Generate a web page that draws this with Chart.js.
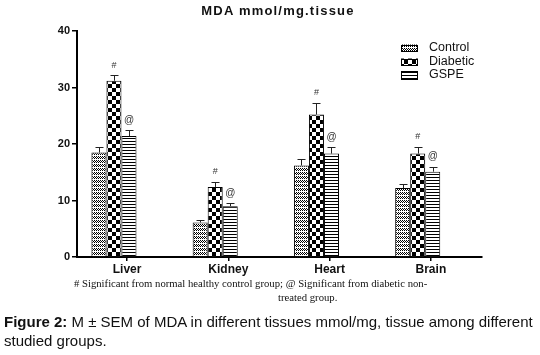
<!DOCTYPE html>
<html>
<head>
<meta charset="utf-8">
<script src="https://cdn.jsdelivr.net/npm/chart.js@4.4.1/dist/chart.umd.min.js"></script>
<style>
  html, body { margin: 0; padding: 0; background: #fff; }
  #wrap { position: relative; width: 540px; height: 355px; overflow: hidden; }
  #chartBox { position: absolute; left: 0; top: 0; width: 540px; height: 355px; }
  .title { position: absolute; top: 3px; left: 0; width: 556px; text-align: center;
           font: bold 13px "Liberation Sans", Arial, sans-serif; color: #111; letter-spacing: 1.2px; }
  .note { position: absolute; font: 10.7px "Liberation Serif", "Times New Roman", serif; color: #111; white-space: nowrap; }
  .caption { position: absolute; left: 4px; font: 15px "Liberation Sans", Arial, sans-serif; color: #111; white-space: nowrap; }
</style>
</head>
<body>
<div id="wrap">
  <div id="chartBox"><canvas id="c"></canvas></div>
  <div class="title">MDA mmol/mg.tissue</div>
  <div class="note" style="left:74px; top:277px;"># Significant from normal healthy control group; @ Significant from diabetic non-</div>
  <div class="note" style="left:278px; top:291px;">treated group.</div>
  <div class="caption" style="top:313px;"><b>Figure 2:</b> M ± SEM of MDA in different tissues mmol/mg, tissue among different</div>
  <div class="caption" style="top:332px;">studied groups.</div>
</div>
<script>
const categories = ['Liver', 'Kidney', 'Heart', 'Brain'];
const seriesNames = ['Control', 'Diabetic', 'GSPE'];
const controlMeans = [18.5, 6.1, 16.2, 12.2];
const controlSem = [1.0, 0.5, 1.2, 0.7];
const diabeticMeans = [31.2, 12.4, 25.2, 18.3];
const diabeticSem = [1.0, 0.9, 2.1, 1.2];
const gspeMeans = [21.4, 9.0, 18.3, 15.1];
const gspeSem = [1.0, 0.5, 1.2, 0.9];
const diabeticMarks = ['#', '#', '#', '#'];
const gspeMarks = ['@', '@', '@', '@'];
const yTicks = [0, 10, 20, 30, 40];

function makePattern(kind) {
  const c = document.createElement('canvas');
  let w, h;
  if (kind === 'control') { w = 2; h = 4; }
  else if (kind === 'diabetic') { w = 8; h = 8; }
  else { w = 1; h = 3; }
  c.width = w; c.height = h;
  const g = c.getContext('2d');
  g.fillStyle = '#fff'; g.fillRect(0, 0, w, h);
  g.fillStyle = '#000';
  if (kind === 'control') {
    g.fillRect(0, 0, 1, 1); g.fillRect(1, 1, 1, 1); g.fillRect(0, 2, 1, 1);
  } else if (kind === 'diabetic') {
    g.fillRect(0, 0, 4, 4); g.fillRect(4, 4, 4, 4);
  } else {
    g.fillRect(0, 0, 1, 1);
  }
  return g.createPattern(c, 'repeat');
}
const patterns = [makePattern('control'), makePattern('diabetic'), makePattern('gspe')];
const meansList = [controlMeans, diabeticMeans, gspeMeans];
const semList = [controlSem, diabeticSem, gspeSem];
const marksList = [null, diabeticMarks, gspeMarks];

const datasets = seriesNames.map((name, s) => ({
  label: name,
  data: meansList[s].map((v, i) => ({ x: i, y: v })),
  sem: semList[s],
  marks: marksList[s],
  backgroundColor: patterns[s],
  borderColor: '#000',
  borderWidth: 1,
  categoryPercentage: 0.445,
  barPercentage: 1.0
}));

const extrasPlugin = {
  id: 'extras',
  afterDatasetsDraw(chart) {
    const ctx = chart.ctx;
    const ys = chart.scales.y;
    ctx.save();
    chart.data.datasets.forEach((ds, di) => {
      const meta = chart.getDatasetMeta(di);
      meta.data.forEach((bar, i) => {
        const v = ds.data[i].y;
        const top = ys.getPixelForValue(v + ds.sem[i]);
        const base = ys.getPixelForValue(v);
        const x = Math.round(bar.x) + 0.5;
        ctx.strokeStyle = '#222';
        ctx.lineWidth = 1;
        ctx.beginPath();
        ctx.moveTo(x, base); ctx.lineTo(x, Math.round(top) + 0.5);
        ctx.moveTo(x - 4, Math.round(top) + 0.5); ctx.lineTo(x + 4, Math.round(top) + 0.5);
        ctx.stroke();
        if (ds.marks) {
          ctx.fillStyle = '#333';
          ctx.textAlign = 'center';
          ctx.textBaseline = 'middle';
          ctx.font = (ds.marks[i] === '@' ? '10px' : '9px') + ' "Liberation Sans", Arial, sans-serif';
          ctx.fillText(ds.marks[i], bar.x, top - 10);
        }
      });
    });
    // legend
    const lx = 401, ly = [48, 62, 75];
    ctx.font = '12.5px "Liberation Sans", Arial, sans-serif';
    ctx.textAlign = 'left';
    ctx.textBaseline = 'middle';
    chart.data.datasets.forEach((ds, di) => {
      const bh = di === 2 ? 9 : 7;
      ctx.fillStyle = ds.backgroundColor;
      ctx.fillRect(lx, ly[di] - bh / 2, 17, bh);
      ctx.strokeStyle = '#000';
      ctx.lineWidth = 1;
      ctx.strokeRect(lx + 0.5, Math.round(ly[di] - bh / 2) + 0.5, 16, bh - 1);
      ctx.fillStyle = '#111';
      ctx.fillText(ds.label, 429, ly[di]);
    });
    ctx.restore();
  }
};

new Chart(document.getElementById('c'), {
  type: 'bar',
  data: { datasets },
  options: {
    responsive: true,
    maintainAspectRatio: false,
    animation: false,
    layout: { padding: { left: 0, right: 58, top: 31, bottom: 78 } },
    plugins: { legend: { display: false }, title: { display: false }, tooltip: { enabled: false } },
    scales: {
      x: {
        type: 'linear',
        offset: false,
        min: -0.365,
        max: 3.635,
        afterBuildTicks(scale) { scale.ticks = categories.map((c, i) => ({ value: i + 0.13 })); },
        afterFit(scale) { scale.height = 20; },
        ticks: {
          callback: (v, idx) => categories[idx],
          color: '#111',
          font: { family: '"Liberation Sans", Arial, sans-serif', size: 12, weight: 'bold' },
          padding: 1,
          maxRotation: 0,
          autoSkip: false
        },
        grid: { offset: false, drawOnChartArea: false, drawTicks: true, tickLength: 4, color: '#000', lineWidth: 1.5 },
        border: { display: true, color: '#000', width: 2 }
      },
      y: {
        min: 0,
        max: 40,
        afterBuildTicks(scale) { scale.ticks = yTicks.map(v => ({ value: v })); },
        afterFit(scale) { scale.width = 77; },
        ticks: {
          color: '#111',
          font: { family: '"Liberation Sans", Arial, sans-serif', size: 11, weight: 'bold' },
          padding: 2
        },
        grid: { drawOnChartArea: false, drawTicks: true, tickLength: 5, color: '#000', lineWidth: 1.5 },
        border: { display: true, color: '#000', width: 2 }
      }
    }
  },
  plugins: [extrasPlugin]
});
</script>
</body>
</html>
